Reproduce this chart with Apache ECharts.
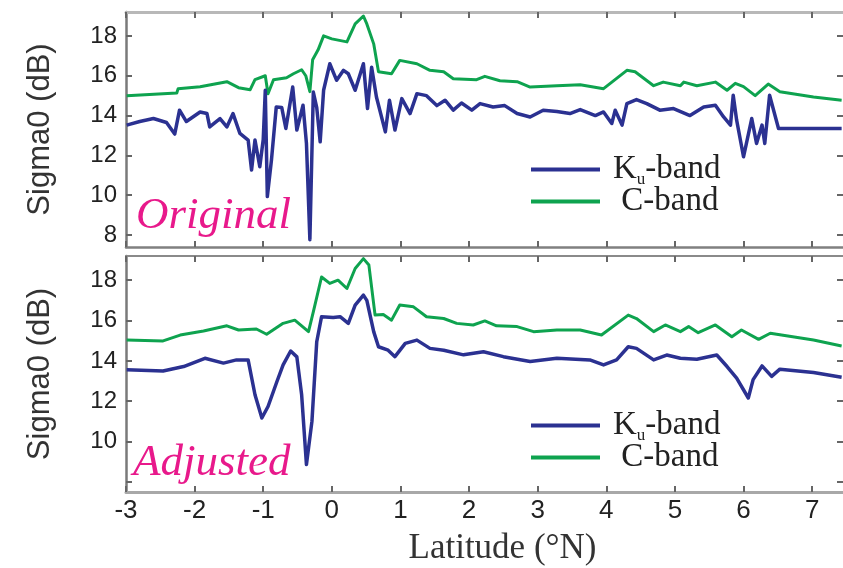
<!DOCTYPE html>
<html>
<head>
<meta charset="utf-8">
<script src="https://cdn.jsdelivr.net/npm/echarts@6/dist/echarts.min.js"></script>
<style>
  html, body { margin: 0; padding: 0; background: #fff; }
  #chart { width: 843px; height: 568px; }
</style>
</head>
<body>
<div id="chart"></div>
<script>
// x ticks (latitude) and y ticks (sigma0)
const latTicks = [-3, -2, -1, 0, 1, 2, 3, 4, 5, 6, 7];
const origYTicks = [8, 10, 12, 14, 16, 18];
const adjYTicks = [8, 10, 12, 14, 16, 18];
const adjYLabels = [10, 12, 14, 16, 18];

// Original panel, Ku-band
const origKuLat = [-2.99, -2.8, -2.6, -2.41, -2.29, -2.22, -2.12, -1.92, -1.82, -1.78, -1.63, -1.53, -1.44, -1.34,
  -1.22, -1.17, -1.12, -1.05, -1.0, -0.97, -0.94, -0.88, -0.81, -0.73, -0.67, -0.57, -0.51, -0.42, -0.37, -0.32,
  -0.27, -0.22, -0.17, -0.12, -0.03, 0.07, 0.17, 0.24, 0.34, 0.46, 0.52, 0.58, 0.65, 0.78, 0.84, 0.92, 1.02, 1.14,
  1.24, 1.38, 1.53, 1.65, 1.77, 1.89, 2.04, 2.16, 2.35, 2.52, 2.7, 2.89, 3.08, 3.28, 3.47, 3.62, 3.84, 3.96, 4.08,
  4.13, 4.23, 4.3, 4.44, 4.59, 4.78, 4.98, 5.22, 5.42, 5.59, 5.71, 5.81, 5.85, 5.9, 6.0, 6.12, 6.19, 6.27, 6.31,
  6.38, 6.51, 7.43];
const origKuVal = [13.52, 13.7, 13.85, 13.65, 13.07, 14.27, 13.7, 14.18, 14.1, 13.43, 13.85, 13.43, 14.1, 13.1,
  12.77, 11.27, 12.77, 11.43, 12.8, 15.27, 9.93, 11.77, 14.43, 14.4, 13.35, 15.43, 13.27, 14.52, 12.6, 7.77,
  15.18, 14.4, 12.68, 15.27, 16.6, 15.77, 16.27, 16.1, 15.27, 16.6, 14.35, 16.43, 14.93, 13.18, 14.77, 13.27, 14.85, 14.1,
  15.1, 15.0, 14.5, 14.77, 14.27, 14.63, 14.27, 14.6, 14.43, 14.5, 14.1, 13.93, 14.27, 14.2, 14.1, 14.3, 14.0, 14.18, 13.6,
  14.27, 13.52, 14.6, 14.8, 14.6, 14.27, 14.35, 14.0, 14.43, 14.52, 13.93, 13.52, 15.02, 13.77, 11.93, 13.85, 12.6, 13.52, 12.6,
  15.02, 13.35, 13.35];

// Original panel, C-band
const origCLat = [-2.99, -2.26, -2.24, -1.92, -1.53, -1.36, -1.19, -1.12, -0.97, -0.93, -0.85, -0.66, -0.56, -0.44,
  -0.38, -0.32, -0.28, -0.2, -0.12, 0.0, 0.22, 0.34, 0.46, 0.51, 0.61, 0.68, 0.87, 0.99, 1.24, 1.43, 1.63, 1.77,
  2.11, 2.23, 2.45, 2.7, 2.89, 3.28, 3.62, 3.96, 4.3, 4.42, 4.69, 4.83, 5.08, 5.13, 5.32, 5.59, 5.76, 5.88, 6.0,
  6.17, 6.36, 6.53, 7.02, 7.43];
const origCVal = [15.0, 15.13, 15.35, 15.45, 15.7, 15.4, 15.3, 15.8, 16.0, 15.1, 15.8, 15.9, 16.1, 16.3,
  16.0, 15.2, 16.8, 17.3, 18.0, 17.85, 17.7, 18.6, 19.0, 18.6, 17.6, 16.2, 16.1, 16.77, 16.6, 16.27, 16.2, 15.85,
  15.8, 15.97, 15.75, 15.7, 15.43, 15.5, 15.55, 15.35, 16.27, 16.2, 15.5, 15.68, 15.5, 15.68, 15.5, 15.68, 15.27, 15.62, 15.45,
  15.0, 15.58, 15.2, 14.93, 14.77];

// Adjusted panel, Ku-band
const adjKuLat = [-2.99, -2.46, -2.16, -1.85, -1.58, -1.39, -1.22, -1.12, -1.02, -0.93, -0.8, -0.71, -0.6, -0.51,
  -0.44, -0.37, -0.29, -0.22, -0.15, 0.02, 0.12, 0.24, 0.34, 0.46, 0.51, 0.61, 0.68, 0.82, 0.92, 1.07, 1.24, 1.43,
  1.63, 1.92, 2.21, 2.5, 2.89, 3.28, 3.76, 3.96, 4.15, 4.32, 4.44, 4.69, 4.88, 5.08, 5.32, 5.61, 5.76, 5.9, 6.07,
  6.14, 6.27, 6.41, 6.53, 7.02, 7.43];
const adjKuVal = [13.56, 13.5, 13.72, 14.13, 13.89, 14.05, 14.05, 12.32, 11.17, 11.74, 12.98, 13.8, 14.49, 14.2,
  12.32, 8.86, 11.0, 14.95, 16.19, 16.15, 16.19, 15.86, 16.77, 17.26, 17.0, 15.45, 14.7, 14.53, 14.21, 14.87, 15.03, 14.62,
  14.53, 14.3, 14.45, 14.21, 13.97, 14.13, 14.05, 13.8, 14.05, 14.7, 14.62, 14.05, 14.29, 14.13, 14.08, 14.29, 13.72, 13.15, 12.16,
  13.07, 13.75, 13.23, 13.59, 13.42, 13.19];

// Adjusted panel, C-band
const adjCLat = [-2.99, -2.46, -2.21, -1.87, -1.53, -1.36, -1.1, -0.95, -0.71, -0.54, -0.34, -0.27, -0.15, -0.03,
  0.09, 0.22, 0.34, 0.46, 0.54, 0.63, 0.75, 0.87, 0.99, 1.19, 1.38, 1.63, 1.82, 2.06, 2.23, 2.4, 2.7, 2.94, 3.28,
  3.62, 3.93, 4.32, 4.44, 4.69, 4.86, 5.08, 5.2, 5.34, 5.59, 5.83, 5.97, 6.22, 6.39, 7.02, 7.43];
const adjCVal = [15.04, 14.99, 15.28, 15.48, 15.74, 15.53, 15.58, 15.32, 15.86, 16.02, 15.45, 16.43, 18.16, 17.84,
  18.0, 17.59, 18.58, 19.07, 18.75, 16.27, 16.3, 16.02, 16.77, 16.68, 16.19, 16.1, 15.86, 15.78, 15.98, 15.74, 15.7, 15.45, 15.53,
  15.53, 15.28, 16.27, 16.1, 15.45, 15.78, 15.45, 15.7, 15.4, 15.78, 15.2, 15.53, 15.07, 15.37, 15.04, 14.74];

const KU_COLOR = "#2b3191";
const C_COLOR = "#0ea34f";
const SANS = "Liberation Sans";
const SERIF = "Liberation Serif";

function pairs(xs, ys) {
  return xs.map((x, i) => [x, ys[i]]);
}

function frameX(gridIndex, position, lineColor, lineWidth, extra) {
  return Object.assign({
    type: "value",
    gridIndex: gridIndex,
    position: position,
    min: -3,
    max: 7.45,
    axisLine: { show: true, onZero: false, lineStyle: { color: lineColor, width: lineWidth } },
    axisTick: { show: true, inside: true, length: 6, customValues: latTicks, lineStyle: { color: "#666", width: 2 } },
    axisLabel: { show: false },
    splitLine: { show: false },
  }, extra || {});
}

function frameY(gridIndex, position, min, ticks, labels, lineColor, extra) {
  return Object.assign({
    type: "value",
    gridIndex: gridIndex,
    position: position,
    min: min,
    max: 19.2,
    axisLine: { show: position === "left", onZero: false, lineStyle: { color: lineColor, width: 2.5 } },
    axisTick: { show: true, inside: true, length: 6, customValues: ticks, lineStyle: { color: "#666", width: 2 } },
    axisLabel: labels ? {
      show: true, customValues: labels, margin: 9,
      fontFamily: SANS, fontSize: 24, color: "#222",
    } : { show: false },
    splitLine: { show: false },
  }, extra || {});
}

const yName = {
  name: "Sigma0 (dB)",
  nameLocation: "middle",
  nameRotate: 90,
  nameGap: 70,
  nameTextStyle: { fontFamily: SANS, fontSize: 31, color: "#333" },
};

const legendBase = {
  orient: "vertical",
  left: 526,
  itemWidth: 69,
  itemHeight: 4,
  itemGap: -3,
  icon: "rect",
  selectedMode: false,
  data: ["Ku-band", "C-band"],
  formatter: (name) => (name === "Ku-band" ? "{a|K}{b|u}{a|-band}" : "{a| C-band}"),
  textStyle: {
    padding: [0, 0, 0, 8],
    rich: {
      a: { fontFamily: SERIF, fontSize: 33, color: "#222", lineHeight: 31 },
      // subscript u: uneven padding pushes the glyph below the baseline
      b: { fontFamily: SERIF, fontSize: 17, color: "#222", padding: [12, 0, -8, 0] },
    },
  },
};

function lineSeries(name, xi, yi, xs, ys, color, width) {
  return {
    name: name,
    type: "line",
    xAxisIndex: xi,
    yAxisIndex: yi,
    data: pairs(xs, ys),
    showSymbol: false,
    symbol: "none",
    lineStyle: { color: color, width: width, join: "round" },
    itemStyle: { color: color },
  };
}

const chart = echarts.init(document.getElementById("chart"), null, { renderer: "canvas" });
chart.setOption({
  animation: false,
  backgroundColor: "#fff",
  grid: [
    { left: 126, right: 0, top: 12, height: 235 },
    { left: 126, right: 0, top: 256, height: 236 },
  ],
  xAxis: [
    frameX(0, "bottom", "#808080", 2.5),
    frameX(0, "top", "#b8b8b8", 3),
    frameX(1, "bottom", "#a8a8a8", 3, {
      axisLabel: { show: true, customValues: latTicks, margin: 6, fontFamily: SANS, fontSize: 26, color: "#222" },
      name: "Latitude (°N)",
      nameLocation: "middle",
      nameGap: 39,
      nameTextStyle: { fontFamily: SERIF, fontSize: 35, color: "#333", padding: [0, 0, 0, 36] },
    }),
    frameX(1, "top", "#8a8a8a", 2),
  ],
  yAxis: [
    frameY(0, "left", 7.4, origYTicks, origYTicks, "#7a7a7a", yName),
    frameY(0, "right", 7.4, origYTicks, null, "#7a7a7a"),
    frameY(1, "left", 7.5, adjYTicks, adjYLabels, "#7a7a7a", yName),
    frameY(1, "right", 7.5, adjYTicks, null, "#7a7a7a"),
  ],
  legend: [
    Object.assign({ top: 148 }, legendBase),
    Object.assign({ top: 404 }, legendBase),
  ],
  graphic: [
    {
      type: "text", left: 136, top: 194,
      style: { text: "Original", fontFamily: SERIF, fontStyle: "italic", fontSize: 45, fill: "#e8198b" },
    },
    {
      type: "text", left: 133, top: 441,
      style: { text: "Adjusted", fontFamily: SERIF, fontStyle: "italic", fontSize: 45, fill: "#e8198b" },
    },
  ],
  series: [
    lineSeries("C-band", 0, 0, origCLat, origCVal, C_COLOR, 3),
    lineSeries("Ku-band", 0, 0, origKuLat, origKuVal, KU_COLOR, 3.5),
    lineSeries("C-band", 2, 2, adjCLat, adjCVal, C_COLOR, 3),
    lineSeries("Ku-band", 2, 2, adjKuLat, adjKuVal, KU_COLOR, 3.5),
  ],
});
</script>
</body>
</html>
